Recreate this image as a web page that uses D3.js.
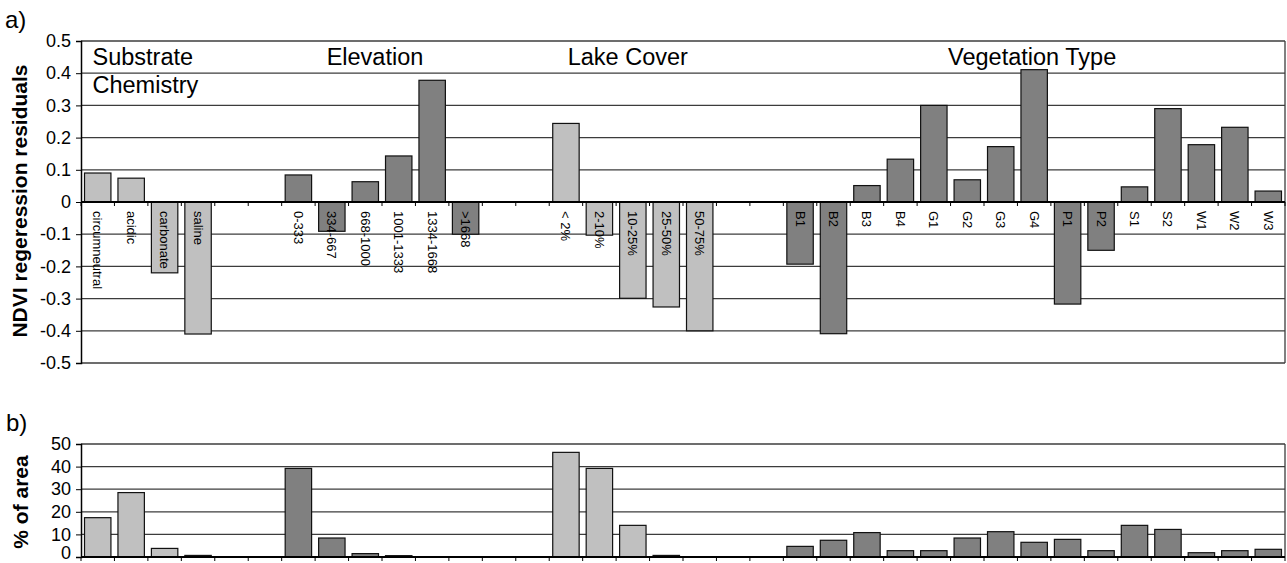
<!DOCTYPE html>
<html>
<head>
<meta charset="utf-8">
<script type="text/javascript" src="https://cdn.jsdelivr.net/npm/d3@7/dist/d3.min.js"></script>
<style>
  body { margin: 0; background: #fff; }
  svg text { font-family: "Liberation Sans", Arial, sans-serif; }
</style>
</head>
<body>
<svg id="chart" width="1287" height="563"></svg>
<script>
// categories along x, "_n" entries are the empty slots between groups
var categories = ['circumneutral', 'acidic', 'carbonate', 'saline', '_1', '_2',
    '0-333', '334-667', '668-1000', '1001-1333', '1334-1668', '>1668', '_3', '_4',
    '< 2%', '2-10%', '10-25%', '25-50%', '50-75%', '_5', '_6',
    'B1', 'B2', 'B3', 'B4', 'G1', 'G2', 'G3', 'G4', 'P1', 'P2', 'S1', 'S2', 'W1', 'W2', 'W3'];

var groupOf = ['sub', 'sub', 'sub', 'sub', null, null,
    'elev', 'elev', 'elev', 'elev', 'elev', 'elev', null, null,
    'lake', 'lake', 'lake', 'lake', 'lake', null, null,
    'veg', 'veg', 'veg', 'veg', 'veg', 'veg', 'veg', 'veg', 'veg', 'veg', 'veg', 'veg', 'veg', 'veg', 'veg'];

// a) NDVI regression residuals
var residuals = [0.090, 0.074, -0.220, -0.410, null, null,
    0.084, -0.091, 0.063, 0.143, 0.378, -0.100, null, null,
    0.244, -0.103, -0.299, -0.326, -0.400, null, null,
    -0.193, -0.409, 0.051, 0.133, 0.300, 0.069, 0.172, 0.411, -0.317, -0.150, 0.047, 0.290, 0.178, 0.232, 0.034];

// b) % of area
var areaPct = [17.4, 28.5, 3.8, 0.7, null, null,
    39.2, 8.4, 1.5, 0.6, 0, 0, null, null,
    46.3, 39.2, 14.0, 0.7, 0, null, null,
    4.7, 7.4, 10.8, 2.8, 2.8, 8.4, 11.2, 6.5, 7.8, 2.8, 14.0, 12.2, 1.9, 2.8, 3.4];

var groupTitles = [
    {group: 'sub', lines: ['Substrate', 'Chemistry']},
    {group: 'elev', lines: ['Elevation']},
    {group: 'lake', lines: ['Lake Cover']},
    {group: 'veg', lines: ['Vegetation Type']}
];

var ticksA = [0.5, 0.4, 0.3, 0.2, 0.1, 0, -0.1, -0.2, -0.3, -0.4, -0.5];
var tickLabelsA = ['0.5', '0.4', '0.3', '0.2', '0.1', '0', '-0.1', '-0.2', '-0.3', '-0.4', '-0.5'];
var ticksB = [0, 10, 20, 30, 40, 50];
var tickLabelsB = ['0', '10', '20', '30', '40', '50'];

var fills = {sub: '#c0c0c0', lake: '#c0c0c0', elev: '#808080', veg: '#808080'};
var gridColor = '#3c3c3c';

var svg = d3.select('#chart');
var left = 81, right = 1285;

var x = d3.scaleBand()
    .domain(categories)
    .range([left, right])
    .paddingInner(0.21)
    .paddingOuter(0.105);

function boundary(i) {
    return left + i * x.step();
}

var rows = categories.map(function(c, i) {
    return {cat: c, group: groupOf[i], res: residuals[i], area: areaPct[i]};
});

function drawPanel(g, y, ticks, labels, top, bottom, dyFn) {
    // grid lines
    g.append('g').selectAll('line').data(ticks).enter().append('line')
        .attr('x1', left).attr('x2', right)
        .attr('y1', function(d) { return y(d); })
        .attr('y2', function(d) { return y(d); })
        .attr('stroke', gridColor)
        .attr('stroke-width', 1.3);

    // right frame
    g.append('line')
        .attr('x1', right).attr('x2', right)
        .attr('y1', top).attr('y2', bottom)
        .attr('stroke', gridColor).attr('stroke-width', 1.3);

    var axis = d3.axisLeft(y)
        .tickValues(ticks)
        .tickSize(5)
        .tickPadding(5)
        .tickFormat(function(d) { return labels[ticks.indexOf(d)]; });

    var ax = g.append('g')
        .attr('transform', 'translate(' + left + ',0)')
        .call(axis);
    ax.select('.domain').attr('stroke', '#000').attr('stroke-width', 1.5);
    ax.selectAll('.tick line').attr('stroke', '#000');
    ax.selectAll('.tick text')
        .attr('font-size', 18)
        .attr('fill', '#000')
        .attr('dy', dyFn)
        .style('font-family', '"Liberation Sans", Arial, sans-serif');
}

function boundaryTicks(g, y0) {
    g.append('g').selectAll('line').data(d3.range(categories.length + 1)).enter().append('line')
        .attr('x1', function(i) { return boundary(i); })
        .attr('x2', function(i) { return boundary(i); })
        .attr('y1', y0).attr('y2', y0 + 4)
        .attr('stroke', '#000').attr('stroke-width', 1);
}

// ---------- panel a ----------
var yA = d3.scaleLinear().domain([-0.5, 0.5]).range([363, 41]);
var gA = svg.append('g');
drawPanel(gA, yA, ticksA, tickLabelsA, 41, 363, function() { return '0.32em'; });

gA.append('g').selectAll('rect')
    .data(rows.filter(function(d) { return d.res !== null; }))
    .enter().append('rect')
    .attr('x', function(d) { return x(d.cat); })
    .attr('width', x.bandwidth())
    .attr('y', function(d) { return yA(Math.max(0, d.res)); })
    .attr('height', function(d) { return Math.abs(yA(d.res) - yA(0)); })
    .attr('fill', function(d) { return fills[d.group]; })
    .attr('stroke', '#111')
    .attr('stroke-width', 1.2);

gA.append('line')
    .attr('x1', left).attr('x2', right)
    .attr('y1', yA(0)).attr('y2', yA(0))
    .attr('stroke', '#000').attr('stroke-width', 2);
boundaryTicks(gA, yA(0));

// rotated category labels
gA.append('g').selectAll('text')
    .data(rows.filter(function(d) { return d.cat[0] !== '_'; }))
    .enter().append('text')
    .attr('transform', function(d) {
        return 'translate(' + (x(d.cat) + x.bandwidth() / 2) + ',' + (yA(0) + 9) + ') rotate(90)';
    })
    .attr('dominant-baseline', 'central')
    .attr('font-size', 13)
    .attr('fill', '#000')
    .text(function(d) { return d.cat; });

// group titles
var titleShift = {sub: 0, elev: -7, lake: -5, veg: -2};
groupTitles.forEach(function(t) {
    var idx = groupOf.map(function(gr, i) { return gr === t.group ? i : -1; })
        .filter(function(i) { return i >= 0; });
    var x0 = boundary(idx[0]), x1 = boundary(idx[idx.length - 1] + 1);
    var txt = gA.append('text')
        .attr('font-size', 23.5)
        .attr('fill', '#000');
    if (t.lines.length > 1) {
        txt.attr('x', x0 + 11.5).attr('text-anchor', 'start');
    } else {
        txt.attr('x', (x0 + x1) / 2 + titleShift[t.group]).attr('text-anchor', 'middle');
    }
    t.lines.forEach(function(line, j) {
        txt.append('tspan')
            .attr('x', txt.attr('x'))
            .attr('y', 65 + j * 28)
            .text(line);
    });
});

svg.append('text')
    .attr('transform', 'translate(27,201) rotate(-90)')
    .attr('text-anchor', 'middle')
    .attr('font-size', 21)
    .attr('font-weight', 'bold')
    .text('NDVI regeression residuals');

svg.append('text')
    .attr('x', 5).attr('y', 28)
    .attr('font-size', 24)
    .text('a)');

// ---------- panel b ----------
var yB = d3.scaleLinear().domain([0, 50]).range([557, 444]);
var gB = svg.append('g');
// the "0" sits right at the picture's bottom edge, lift it a little
drawPanel(gB, yB, ticksB, tickLabelsB, 444, 557, function(d) { return d === 0 ? '0.1em' : '0.32em'; });

gB.append('g').selectAll('rect')
    .data(rows.filter(function(d) { return d.area !== null && d.area > 0; }))
    .enter().append('rect')
    .attr('x', function(d) { return x(d.cat); })
    .attr('width', x.bandwidth())
    .attr('y', function(d) { return yB(d.area); })
    .attr('height', function(d) { return yB(0) - yB(d.area); })
    .attr('fill', function(d) { return fills[d.group]; })
    .attr('stroke', '#111')
    .attr('stroke-width', 1.2);

gB.append('line')
    .attr('x1', left).attr('x2', right)
    .attr('y1', yB(0)).attr('y2', yB(0))
    .attr('stroke', '#000').attr('stroke-width', 2);
boundaryTicks(gB, yB(0));

svg.append('text')
    .attr('transform', 'translate(28,502) rotate(-90)')
    .attr('text-anchor', 'middle')
    .attr('font-size', 21)
    .attr('font-weight', 'bold')
    .text('% of area');

svg.append('text')
    .attr('x', 6).attr('y', 431)
    .attr('font-size', 24)
    .text('b)');
</script>
</body>
</html>
